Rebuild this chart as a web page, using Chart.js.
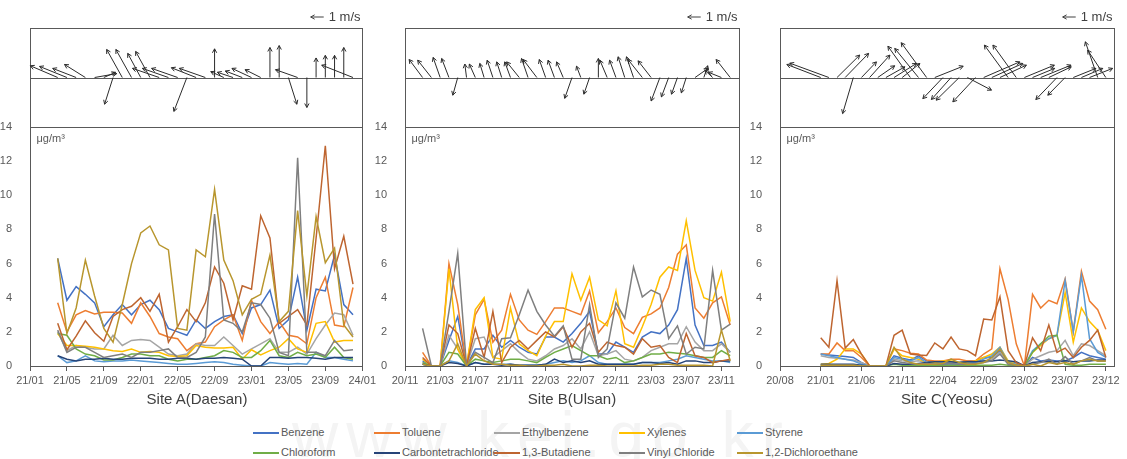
<!DOCTYPE html>
<html>
<head>
<meta charset="utf-8">
<script src="https://cdn.jsdelivr.net/npm/chart.js@4.4.1/dist/chart.umd.min.js"></script>
<style>
  html, body { margin: 0; padding: 0; background: #fff; overflow: hidden; }
  body { width: 1127px; height: 459px; position: relative; font-family: "Liberation Sans", Arial, sans-serif; }
  canvas { position: absolute; top: 0; }
  .title { position: absolute; top: 390px; width: 334px; text-align: center; font-size: 15px; color: #404040; }
  .legend-item { position: absolute; font-size: 11px; color: #595959; line-height: 14px; white-space: nowrap; }
  .legend-item span { display: inline-block; width: 26px; height: 2px; vertical-align: middle; margin-right: 2px; }
  .watermark { position: absolute; left: 292px; top: 398px; font-size: 64px; letter-spacing: 8px; color: #f4f4f4; }
</style>
</head>
<body>
<div class="watermark">www.kei.go.kr</div>
<canvas id="chartA" width="379" height="392" style="left:0px"></canvas>
<canvas id="chartB" width="379" height="392" style="left:375px"></canvas>
<canvas id="chartC" width="379" height="392" style="left:750px"></canvas>
<div class="title" style="left:30px">Site A(Daesan)</div>
<div class="title" style="left:405px">Site B(Ulsan)</div>
<div class="title" style="left:780px">Site C(Yeosu)</div>
<script>
const FONT = '"Liberation Sans", Arial, sans-serif';

const seriesNames = ['Benzene', 'Toluene', 'Ethylbenzene', 'Xylenes', 'Styrene',
    'Chloroform', 'Carbontetrachloride', '1,3-Butadiene', 'Vinyl Chloride', '1,2-Dichloroethane'];
const seriesColors = ['#4472C4', '#ED7D31', '#A5A5A5', '#FFC000', '#5B9BD5',
    '#70AD47', '#264478', '#BE6530', '#7F7F7F', '#B8962E'];

// months counted from the first tick of each panel
// Site A: 21/01 = 0
const tickMonthsA = [0, 4, 8, 12, 16, 20, 24, 28, 32, 36];
const tickLabelsA = ['21/01', '21/05', '21/09', '22/01', '22/05', '22/09', '23/01', '23/05', '23/09', '24/01'];
const monthsA = [3, 4, 5, 6, 7, 8, 9, 10, 11, 12, 13, 14, 15, 16, 17, 18, 19, 20, 21, 22, 23, 24, 25, 26, 27, 28, 29, 30, 31, 32, 33, 34, 35];
const benzeneA = [6.3, 3.85, 4.65, 4.2, 3.7, 2.3, 3.0, 3.6, 3.0, 3.6, 3.85, 3.3, 2.2, 2.0, 1.8, 2.7, 2.2, 2.6, 2.9, 3.0, 1.9, 3.4, 3.6, 4.45, 2.2, 2.7, 5.2, 2.1, 4.5, 4.4, 6.5, 3.6, 3.0];
const tolueneA = [3.7, 2.0, 3.0, 3.25, 3.05, 3.15, 3.15, 3.1, 2.5, 3.7, 2.9, 1.9, 1.7, 1.6, 0.9, 1.3, 1.4, 2.3, 2.7, 3.0, 1.5, 3.85, 2.6, 1.9, 2.6, 1.8, 1.7, 1.3, 4.0, 5.2, 2.4, 2.3, 4.6];
const ethylA = [2.0, 0.9, 1.2, 1.1, 1.0, 1.0, 1.8, 1.2, 1.5, 1.55, 1.5, 1.1, 0.7, 0.6, 0.7, 1.3, 1.2, 1.2, 1.7, 1.2, 0.7, 1.0, 1.3, 1.6, 0.8, 0.8, 1.1, 0.7, 1.6, 2.4, 3.1, 3.0, 1.8];
const xyleneA = [1.9, 1.2, 1.2, 1.15, 1.1, 1.0, 0.9, 0.85, 1.0, 0.8, 0.85, 0.8, 0.6, 0.55, 0.6, 1.2, 1.1, 1.05, 1.05, 1.1, 0.4, 0.95, 0.65, 0.9, 1.1, 1.6, 1.0, 0.8, 2.5, 2.6, 1.4, 1.5, 1.5];
const styreneA = [0.6, 0.2, 0.3, 0.6, 0.3, 0.25, 0.3, 0.3, 0.35, 0.3, 0.25, 0.2, 0.15, 0.1, 0.1, 0.15, 0.2, 0.25, 0.2, 0.1, 0.05, 0.0, 0.0, 0.2, 0.15, 0.1, 0.15, 0.1, 0.8, 0.5, 0.5, 0.4, 0.3];
const chloroA = [1.9, 1.8, 1.0, 0.7, 0.6, 0.35, 0.35, 0.5, 0.7, 0.7, 0.6, 0.6, 0.4, 0.3, 0.4, 0.4, 0.5, 0.6, 0.9, 0.8, 0.5, 0.5, 0.9, 1.5, 0.6, 0.5, 0.8, 0.6, 0.7, 0.5, 1.1, 0.5, 0.4];
const carbonA = [0.6, 0.4, 0.3, 0.4, 0.4, 0.45, 0.4, 0.4, 0.45, 0.45, 0.45, 0.4, 0.4, 0.45, 0.45, 0.4, 0.45, 0.45, 0.5, 0.45, 0.4, 0.0, 0.0, 0.5, 0.5, 0.45, 0.5, 0.5, 0.45, 0.4, 0.5, 0.5, 0.5];
const butadieneA = [2.5, 0.95, 1.75, 2.65, 1.95, 1.45, 2.9, 3.3, 3.5, 4.0, 3.2, 4.2, 1.4, 2.3, 3.3, 2.6, 3.7, 5.8, 4.85, 2.7, 4.7, 4.5, 8.8, 7.5, 2.5, 2.9, 3.3, 2.4, 7.5, 12.9, 5.7, 7.6, 4.8];
const vinylA = [2.1, 0.8, 1.1, 1.1, 0.8, 0.5, 0.6, 0.7, 0.5, 0.8, 0.8, 0.9, 1.0, 0.5, 0.5, 0.8, 1.7, 8.9, 2.7, 2.5, 2.0, 3.7, 3.6, 2.8, 0.8, 0.6, 12.2, 0.8, 0.8, 0.6, 1.5, 0.9, 0.95];
const dceA = [6.3, 1.9, 3.4, 6.2, 4.1, 2.2, 1.4, 3.6, 6.0, 7.8, 8.2, 7.1, 6.8, 2.2, 2.1, 6.8, 6.4, 10.35, 6.2, 5.0, 3.0, 3.9, 4.2, 6.5, 2.6, 3.2, 9.1, 4.1, 8.75, 6.05, 6.9, 2.4, 1.7];
// wind vectors (m/s), one per month of monthsA
const windUA = [-2.1, -2.1, -1.8, -1.6, 1.7, 0.9, -0.65, -1.2, -1.2, -1.0, -1.1, -2.05, -2.0, -2.0, -1.0, -1.9, -2.0, 0, -1.0, -1.2, -1.3, -1.5, -1.2, 0, 0, 0.65, -1.7, 0, 0, 0, 0, 0, -2.4];
const windVA = [0.9, 0.85, 0.7, 1.0, 0.3, 0.4, -2.05, 2.15, 2.15, 1.85, 2.0, 0.7, 0.7, 0.7, -2.6, 0.75, 0.7, 2.2, 0.45, 0.4, 0.5, 0.7, 0.6, 2.3, 2.45, -2.05, 0.6, -2.3, 1.5, 1.7, 1.7, 2.3, 0.95];

// Site B: 20/11 = 0
const tickMonthsB = [0, 4, 8, 12, 16, 20, 24, 28, 32, 36];
const tickLabelsB = ['20/11', '21/03', '21/07', '21/11', '22/03', '22/07', '22/11', '23/03', '23/07', '23/11'];
const monthsB = [2, 3, 4, 5, 6, 7, 8, 9, 10, 11, 12, 13, 14, 15, 16, 17, 18, 19, 20, 21, 22, 23, 24, 25, 26, 27, 28, 29, 30, 31, 32, 33, 34, 35, 36, 37];
const benzeneB = [0.3, 0, 0, 1.5, 2.9, 0, 1.0, 1.0, 1.8, 1.1, 1.5, 1.1, 0.8, 0.7, 1.7, 1.7, 1.4, 1.9, 2.5, 3.2, 0.7, 0.7, 1.4, 1.1, 0.8, 1.7, 2.0, 1.9, 2.4, 3.3, 6.3, 2.4, 1.2, 1.2, 1.4, 0.8];
const tolueneB = [0.8, 0, 0, 6.0, 3.6, 0, 3.0, 3.9, 1.4, 2.1, 4.2, 2.7, 2.1, 1.85, 2.6, 3.4, 3.4, 3.2, 3.0, 4.4, 1.95, 2.6, 3.4, 2.25, 1.9, 2.85, 3.05, 3.4, 4.6, 6.55, 7.1, 3.4, 2.8, 3.7, 4.05, 2.4];
const ethylB = [0.2, 0, 0, 1.8, 1.0, 0, 1.6, 1.7, 0.5, 0.9, 1.3, 0.8, 0.4, 0.3, 0.6, 1.0, 1.2, 1.6, 1.0, 2.0, 0.6, 0.7, 0.9, 0.4, 0.3, 0.5, 0.9, 1.1, 1.3, 1.3, 2.3, 1.4, 0.9, 0.9, 1.3, 0.8];
const xyleneB = [0.4, 0, 0, 5.7, 1.0, 0, 3.3, 4.0, 0.5, 0.4, 3.4, 1.3, 0.9, 0.6, 1.75, 2.6, 2.6, 5.4, 3.85, 5.2, 2.7, 2.35, 4.4, 1.3, 1.1, 2.3, 3.6, 5.2, 5.8, 5.6, 8.5, 5.6, 4.0, 3.8, 5.5, 2.6];
const styreneB = [0.1, 0, 0, 0.3, 0.2, 0, 0.2, 0.1, 0.1, 0.1, 0.1, 0.05, 0.05, 0.05, 0.1, 0.2, 0.3, 0.2, 0.3, 0.6, 0.2, 0.1, 0.1, 0.1, 0.1, 0.2, 0.2, 0.2, 0.3, 0.4, 0.6, 0.5, 0.4, 0.3, 0.3, 0.2];
const chloroB = [0.2, 0, 0, 0.8, 0.7, 0, 0.4, 0.3, 0.2, 0.3, 0.4, 0.4, 0.3, 0.2, 0.5, 0.8, 1.0, 1.2, 0.9, 0.6, 0.6, 0.4, 0.5, 0.2, 0.3, 0.5, 0.7, 0.7, 0.8, 0.75, 0.7, 0.6, 0.5, 0.5, 0.9, 0.6];
const carbonB = [0.1, 0, 0, 0.2, 0.15, 0, 0.2, 0.1, 0.1, 0.05, 0.1, 0.05, 0.05, 0.05, 0.1, 0.4, 0.2, 0.3, 0.2, 0.3, 0.1, 0.1, 0.1, 0.1, 0.1, 0.2, 0.2, 0.15, 0.2, 0.1, 0.3, 0.3, 0.2, 0.2, 0.3, 0.3];
const butadieneB = [0.5, 0, 0, 2.4, 1.9, 0, 2.2, 0.5, 3.2, 0.2, 1.1, 1.5, 1.0, 1.5, 2.0, 1.7, 2.3, 1.1, 2.0, 2.5, 0.8, 1.4, 1.2, 1.1, 0.7, 1.6, 1.1, 1.2, 0.5, 0.2, 1.9, 0.6, 0.5, 0.2, 0.3, 0.4];
const vinylB = [2.2, 0, 0, 3.2, 6.6, 0, 0.8, 0.5, 0.2, 1.6, 1.65, 3.0, 4.45, 3.2, 2.4, 1.75, 2.35, 0.4, 0.4, 3.6, 0.5, 1.0, 3.7, 2.8, 5.8, 4.05, 4.45, 4.2, 1.6, 2.35, 0.7, 1.1, 1.0, 5.6, 2.1, 2.45];
const dceB = [0.1, 0, 0, 0.3, 1.3, 0, 0.7, 0.3, 0.1, 0.1, 0.05, 0.05, 0, 0, 0.05, 0.05, 0.1, 0, 0, 0.05, 0.05, 0, 0, 0, 0, 0.05, 0.05, 0.1, 0.1, 0.05, 0.05, 0.05, 0.05, 0, 2.1, 0.3];
const windUB = [-1.03, -1.05, -0.54, -0.56, -0.38, -0.13, -0.46, -0.33, -0.44, -0.38, -0.44, -0.97, -0.5, -1.05, -0.49, -0.49, -0.51, -0.56, -0.33, -0.44, 0, -0.56, -0.49, -0.51, -0.54, -1.1, -1.0, -0.67, -0.56, -0.46, -0.38, 1.0, 0.3, -0.6, -1.0, -1.08];
const windVB = [1.38, 1.33, 1.54, 1.46, -1.36, 1.03, 1.03, 1.08, 1.33, 1.2, 1.2, 1.2, 1.46, 1.38, 1.38, 1.33, 1.2, -1.6, 0.87, -1.28, 1.46, 1.33, 1.33, 1.59, 1.59, 1.38, 1.28, -1.8, -1.49, -1.28, -1.18, 0.7, 0.9, 0.56, 0.4, 1.38];

// Site C: 20/08 = 0
const tickMonthsC = [0, 5, 10, 15, 20, 25, 30, 35, 40];
const tickLabelsC = ['20/08', '21/01', '21/06', '21/11', '22/04', '22/09', '23/02', '23/07', '23/12'];
const monthsC = [5, 6, 7, 8, 9, 10, 11, 12, 13, 14, 15, 16, 17, 18, 19, 20, 21, 22, 23, 24, 25, 26, 27, 28, 29, 30, 31, 32, 33, 34, 35, 36, 37, 38, 39, 40];
const benzeneC = [0.7, 0.65, 0.6, 0.55, 0.5, 0.2, 0, 0, 0, 0.6, 0.45, 0.35, 0.6, 0.3, 0.2, 0.15, 0.1, 0.2, 0.3, 0.3, 0.5, 0.5, 0.9, 0.3, 0.2, 0, 0.5, 0.3, 0.35, 0.3, 0.3, 0.5, 0.8, 0.6, 0.5, 0.4];
const tolueneC = [0.7, 0.7, 1.35, 0.9, 0.9, 0.5, 0, 0, 0, 1.0, 0.9, 0.75, 0.7, 0.35, 0.3, 0.3, 0.4, 0.4, 0.3, 0.3, 0.7, 1.0, 5.7, 3.9, 1.3, 0, 4.2, 3.4, 3.85, 3.65, 5.1, 2.0, 5.55, 3.8, 3.3, 2.15];
const ethylC = [0.6, 0.5, 0.45, 0.4, 0.35, 0.2, 0, 0, 0, 0.4, 0.3, 0.25, 0.3, 0.2, 0.15, 0.2, 0.2, 0.15, 0.2, 0.2, 0.3, 0.4, 0.8, 0.2, 0.1, 0, 0.4, 0.6, 0.8, 0.9, 1.5, 0.6, 1.3, 1.2, 0.9, 0.6];
const xyleneC = [0.1, 0.15, 0.4, 1.0, 1.0, 0.7, 0, 0, 0, 1.0, 0.6, 0.5, 0.4, 0.2, 0.2, 0.3, 0.3, 0.2, 0.2, 0.3, 0.5, 0.7, 1.1, 0.3, 0.1, 0, 0.8, 1.2, 1.6, 1.8, 4.3, 1.4, 3.4, 2.6, 2.1, 0.9];
const styreneC = [0.7, 0.6, 0.5, 0.4, 0.3, 0.1, 0, 0, 0, 0.5, 0.4, 0.3, 0.5, 0.2, 0.1, 0.1, 0.1, 0.1, 0.15, 0.2, 0.4, 0.6, 1.1, 0.2, 0.1, 0, 0.9, 1.3, 1.6, 1.8, 5.0, 2.0, 5.3, 1.6, 0.8, 0.5];
const chloroC = [0.05, 0.05, 0.05, 0.05, 0.05, 0, 0, 0, 0, 0.1, 0.05, 0.05, 0.05, 0.05, 0.05, 0.05, 0.05, 0.05, 0.05, 0.05, 0.05, 0.05, 0.1, 0.05, 0.05, 0, 0.8, 1.3, 1.75, 1.8, 0.1, 0.05, 0.05, 0.1, 0.1, 0.1];
const carbonC = [0.1, 0.1, 0.1, 0.1, 0.1, 0.05, 0, 0, 0, 0.15, 0.1, 0.1, 0.15, 0.2, 0.25, 0.25, 0.25, 0.2, 0.25, 0.25, 0.3, 0.3, 0.35, 0.3, 0.25, 0, 0.2, 0.25, 0.25, 0.25, 0.3, 0.25, 0.3, 0.3, 0.35, 0.35];
const butadieneC = [1.65, 1.1, 5.0, 1.05, 1.55, 0.7, 0, 0, 0, 1.8, 2.1, 0.7, 0.65, 0.62, 1.35, 1.0, 1.7, 1.0, 0.9, 0.6, 2.75, 2.7, 4.05, 0.9, 0.2, 0, 1.65, 0.9, 2.4, 0.8, 1.05, 0.5, 1.1, 1.5, 2.1, 0.5];
const vinylC = [0.05, 0.05, 0.05, 0.05, 0.05, 0, 0, 0, 0, 0.3, 0.2, 0.15, 0.1, 0.15, 0.1, 0.1, 0.15, 0.1, 0.1, 0.15, 0.2, 0.3, 0.7, 0.1, 0.05, 0, 0.1, 0.2, 0.4, 0.1, 0.55, 0.1, 0.3, 0.5, 0.3, 0.3];
const dceC = [0.05, 0.05, 0.05, 0.05, 0.05, 0, 0, 0, 0, 1.1, 0.4, 0.2, 0.1, 0.1, 0.1, 0.15, 0.4, 0.2, 0.1, 0.1, 0.2, 0.5, 1.0, 0.2, 0.05, 0, 0.1, 0, 0.2, 0.1, 0.2, 0.1, 0.3, 0.4, 0.3, 0.3];
const windUC = [-2.6, -3.0, 1.74, 1.8, -0.82, 1.15, 1.56, 1.3, 1.46, 1.72, 1.36, -1.72, -1.82, -1.95, 2.18, -1.54, -1.51, -1.77, 1.85, -1.74, 2.77, 2.38, 2.03, -1.82, -1.79, 2.3, 1.7, 2.33, 1.72, -1.62, -1.33, 1.74, 1.64, 1.77, -0.95, -1.4];
const windVC = [1.0, 1.1, 1.72, 1.85, -2.77, 1.2, 1.72, 0.9, 0.82, 1.08, 1.08, 2.4, 2.23, 2.67, 0.87, -1.62, -1.69, -1.74, -0.97, -1.87, 1.2, 1.08, 0.95, 2.49, 2.49, 0.95, 0.7, 0.95, 0.82, -1.69, -1.36, 0.7, 0.7, 0.7, 2.74, 2.1];

function drawArrow(ctx, x0, y0, x1, y1) {
    const a = Math.atan2(y1 - y0, x1 - x0);
    const h = 4.5;
    ctx.beginPath();
    ctx.moveTo(x0, y0);
    ctx.lineTo(x1, y1);
    ctx.moveTo(x1 - h * Math.cos(a - 0.5), y1 - h * Math.sin(a - 0.5));
    ctx.lineTo(x1, y1);
    ctx.lineTo(x1 - h * Math.cos(a + 0.5), y1 - h * Math.sin(a + 0.5));
    ctx.stroke();
}

// boxes, wind arrows and the small labels
function windPanel(months, windU, windV) {
    return {
        id: 'windPanel',
        afterDraw(chart) {
            const ctx = chart.ctx;
            const x = chart.scales.x;
            const y = chart.scales.y;
            const yw = chart.scales.yWind;
            const left = Math.round(chart.chartArea.left) + 0.5;
            const right = Math.round(chart.chartArea.right) + 0.5;

            ctx.save();
            ctx.strokeStyle = '#595959';
            ctx.lineWidth = 1;
            ctx.strokeRect(left, Math.round(yw.top) + 0.5, right - left, Math.round(yw.bottom) - Math.round(yw.top));
            ctx.strokeRect(left, Math.round(y.top) + 0.5, right - left, Math.round(y.bottom) - Math.round(y.top));

            const base = yw.getPixelForValue(0);
            ctx.beginPath();
            ctx.moveTo(left, Math.round(base) + 0.5);
            ctx.lineTo(right, Math.round(base) + 0.5);
            ctx.stroke();

            const unit = base - yw.getPixelForValue(1);
            ctx.strokeStyle = '#2b2b2b';
            months.forEach((m, i) => {
                const x0 = x.getPixelForValue(m);
                drawArrow(ctx, x0, base, x0 + windU[i] * unit, yw.getPixelForValue(windV[i]));
            });

            // "<- 1 m/s" key
            ctx.fillStyle = '#404040';
            ctx.font = '13px ' + FONT;
            ctx.textAlign = 'right';
            ctx.textBaseline = 'middle';
            const tx = right - 2;
            const ty = yw.top - 11;
            ctx.fillText('1 m/s', tx, ty);
            const tw = ctx.measureText('1 m/s').width;
            ctx.strokeStyle = '#404040';
            drawArrow(ctx, tx - tw - 5, ty, tx - tw - 5 - unit, ty);

            ctx.fillStyle = '#595959';
            ctx.font = '11px ' + FONT;
            ctx.textAlign = 'left';
            ctx.fillText('\u03bcg/m\u00b3', left + 6, y.top + 12);
            ctx.restore();
        }
    };
}

function createSiteChart(canvasId, months, seriesValues, windU, windV, tickMonths, tickLabels, xMax) {
    const ctx = document.getElementById(canvasId).getContext('2d');

    const datasets = seriesValues.map((values, i) => ({
        label: seriesNames[i],
        data: months.map((m, j) => ({ x: m, y: values[j] })),
        borderColor: seriesColors[i],
        backgroundColor: seriesColors[i],
        borderWidth: 1.5,
        pointRadius: 0,
        fill: false,
        tension: 0,
        yAxisID: 'y'
    })).reverse();

    new Chart(ctx, {
        type: 'line',
        data: { datasets: datasets },
        options: {
            responsive: false,
            animation: false,
            devicePixelRatio: 1,
            layout: { padding: { top: 28, bottom: 4, left: 0, right: 15 } },
            plugins: {
                legend: { display: false },
                tooltip: { enabled: false }
            },
            scales: {
                x: {
                    type: 'linear',
                    min: 0,
                    max: xMax,
                    grid: { display: true, drawOnChartArea: false, drawTicks: true, tickLength: 5, color: '#595959' },
                    border: { display: false },
                    afterBuildTicks: axis => { axis.ticks = tickMonths.map(v => ({ value: v })); },
                    afterFit: axis => { axis.height = 22; },
                    ticks: {
                        autoSkip: false,
                        maxRotation: 0,
                        color: '#595959',
                        padding: 3,
                        font: { family: FONT, size: 11 },
                        callback: value => tickLabels[tickMonths.indexOf(value)]
                    }
                },
                yWind: {
                    type: 'linear',
                    position: 'left',
                    stack: 'site',
                    stackWeight: 99,
                    weight: 1,
                    min: -3.8,
                    max: 3.8,
                    grid: { display: false },
                    border: { display: false },
                    ticks: { display: false }
                },
                y: {
                    type: 'linear',
                    position: 'left',
                    stack: 'site',
                    stackWeight: 239,
                    min: 0,
                    max: 14,
                    grid: { display: false },
                    border: { display: false },
                    afterFit: axis => { axis.width = 30; },
                    ticks: {
                        stepSize: 2,
                        color: '#595959',
                        padding: 10,
                        font: { family: FONT, size: 11 }
                    }
                }
            }
        },
        plugins: [windPanel(months, windU, windV)]
    });
}

createSiteChart('chartA', monthsA,
    [benzeneA, tolueneA, ethylA, xyleneA, styreneA, chloroA, carbonA, butadieneA, vinylA, dceA],
    windUA, windVA, tickMonthsA, tickLabelsA, 36);
createSiteChart('chartB', monthsB,
    [benzeneB, tolueneB, ethylB, xyleneB, styreneB, chloroB, carbonB, butadieneB, vinylB, dceB],
    windUB, windVB, tickMonthsB, tickLabelsB, 38);
createSiteChart('chartC', monthsC,
    [benzeneC, tolueneC, ethylC, xyleneC, styreneC, chloroC, carbonC, butadieneC, vinylC, dceC],
    windUC, windVC, tickMonthsC, tickLabelsC, 41);

// shared legend, two rows of five
const legendCols = [253, 374, 494, 619, 737];
seriesNames.forEach((name, i) => {
    const item = document.createElement('div');
    item.className = 'legend-item';
    item.style.left = legendCols[i % 5] + 'px';
    item.style.top = (i < 5 ? 425 : 445) + 'px';
    item.innerHTML = '<span style="background:' + seriesColors[i] + '"></span>' + name;
    document.body.appendChild(item);
});
</script>
</body>
</html>
